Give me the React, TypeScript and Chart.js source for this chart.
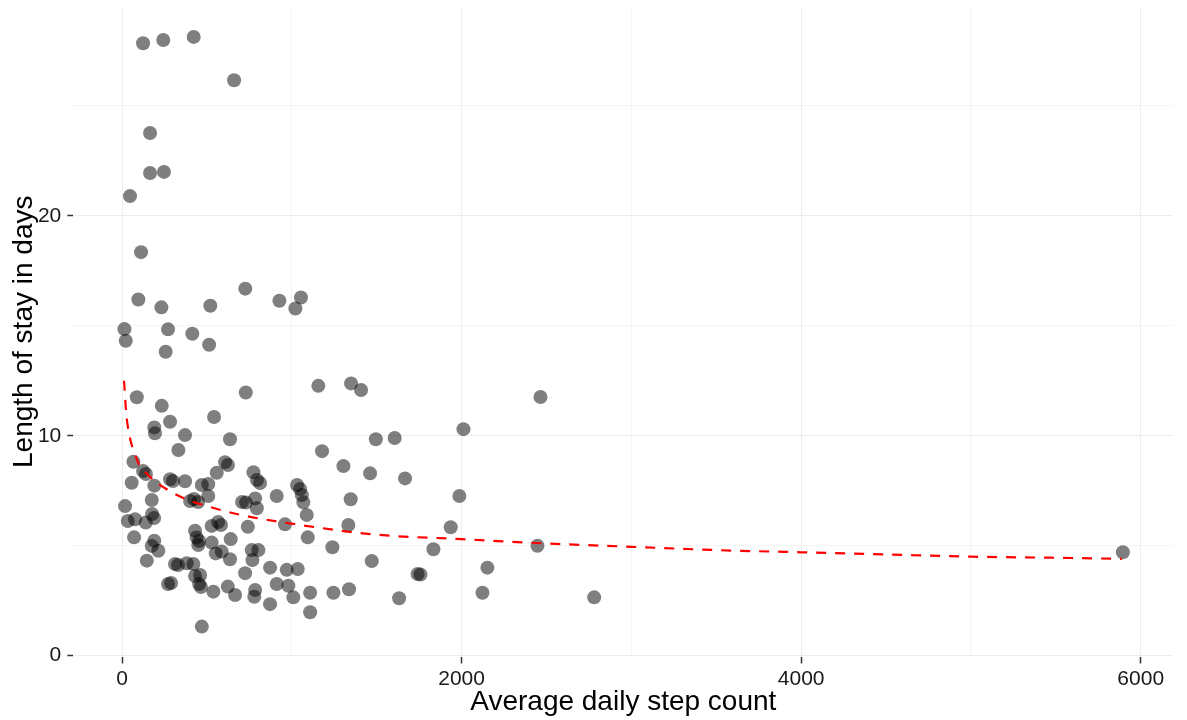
import React, { useEffect, useRef } from "react";
import { Chart, registerables } from "chart.js";

Chart.register(...registerables);

// Scatter points: average daily step count vs length of stay (days)
const stepCounts = [
  124, 243, 422, 660, 165, 165, 247, 47, 112, 726, 96, 232, 520, 927, 1054, 1021,
  14, 22, 271, 414, 513, 257, 87, 234, 729, 1156, 283, 190, 194, 542, 371, 636,
  332, 1178, 1349, 1408, 2465, 2011, 1495, 1606, 67, 124, 141, 57, 190, 18, 34,
  77, 140, 175, 177, 189, 71, 190, 175, 214, 146, 283, 300, 371, 470, 508, 558,
  607, 624, 401, 424, 448, 508, 528, 566, 583, 430, 439, 454, 449, 528, 552, 587,
  636, 640, 312, 330, 381, 420, 430, 460, 271, 289, 454, 465, 538, 623, 666, 470,
  725, 774, 795, 813, 707, 730, 784, 794, 911, 741, 764, 803, 768, 872, 970, 1035,
  911, 980, 1009, 784, 779, 872, 1108, 1108, 1031, 1049, 1059, 1068, 1088, 1094,
  960, 1239, 1245, 1304, 1461, 1667, 1347, 1987, 1333, 1936, 1471, 1834, 1741,
  1758, 2152, 1337, 1632, 2123, 2447, 2781, 5895,
];
const stayDays = [
  27.85, 28.0, 28.14, 26.17, 23.77, 21.95, 22.0, 20.9, 18.35, 16.69, 16.2, 15.84,
  15.91, 16.14, 16.29, 15.79, 14.85, 14.32, 14.84, 14.64, 14.14, 13.82, 11.75,
  11.36, 11.97, 12.27, 10.64, 10.38, 10.11, 10.85, 10.03, 9.84, 9.35, 9.3, 12.38,
  12.08, 11.76, 10.3, 9.84, 9.9, 8.82, 8.4, 8.26, 7.86, 7.73, 6.8, 6.12, 6.2, 6.05,
  7.08, 6.44, 6.26, 5.38, 5.23, 4.99, 4.77, 4.32, 8.02, 7.94, 7.93, 7.76, 7.8, 8.32,
  8.8, 8.67, 7.03, 7.12, 6.99, 7.26, 5.9, 6.08, 5.94, 5.68, 5.37, 5.21, 5.03, 5.14,
  4.65, 4.73, 4.38, 5.3, 4.17, 4.12, 4.2, 4.17, 3.62, 3.67, 3.26, 3.3, 3.26, 3.12,
  2.91, 3.14, 2.76, 1.32, 3.75, 8.34, 7.99, 7.85, 6.99, 6.96, 7.15, 6.7, 7.26, 5.86,
  4.8, 4.8, 4.35, 4.0, 3.9, 3.94, 3.26, 3.18, 2.65, 2.99, 2.68, 2.34, 2.86, 1.97,
  7.76, 7.58, 7.3, 6.97, 6.4, 5.38, 5.97, 4.93, 2.86, 8.62, 8.29, 8.06, 7.11, 7.26,
  5.94, 5.84, 4.3, 4.84, 3.71, 3.69, 4.0, 3.02, 2.61, 2.86, 5.0, 2.65, 4.7,
];

// Fitted (dashed red) curve
const fitSteps = [12, 25, 50, 75, 100, 150, 200, 300, 400, 500, 700, 1000, 1500, 2000, 2500, 3000, 3500, 4000, 4500, 5000, 5500, 5890];
const fitDays = [12.5, 11.0, 9.8, 9.2, 8.7, 8.25, 7.9, 7.4, 7.05, 6.8, 6.4, 6.0, 5.5, 5.3, 5.1, 4.95, 4.8, 4.7, 4.6, 4.5, 4.45, 4.4];

// Axis ticks (grid at every value, labels at majors)
const xGridValues = [0, 1000, 2000, 3000, 4000, 5000, 6000];
const xLabelValues = [0, 2000, 4000, 6000];
const yGridValues = [0, 5, 10, 15, 20, 25];
const yLabelValues = [0, 10, 20];

const FONT = "'Liberation Sans', Arial, Helvetica, sans-serif";

export default function App() {
  const ref = useRef<HTMLCanvasElement | null>(null);

  useEffect(() => {
    if (!ref.current) return;
    const points = stepCounts.map((x, i) => ({ x, y: stayDays[i] }));
    const fit = fitSteps.map((x, i) => ({ x, y: fitDays[i] }));

    const chart = new Chart(ref.current, {
      type: "scatter",
      data: {
        datasets: [
          {
            data: fit,
            showLine: true,
            borderColor: "#ff0000",
            borderWidth: 2.2,
            borderDash: [10, 9],
            pointRadius: 0,
            fill: false,
            cubicInterpolationMode: "monotone",
            order: 0,
          } as any,
          {
            data: points,
            backgroundColor: "rgba(0,0,0,0.5)",
            borderWidth: 0,
            pointRadius: 7,
            order: 1,
          },
        ],
      },
      options: {
        responsive: false,
        animation: false,
        layout: { padding: { left: 0, right: 13.7, top: 6.7, bottom: 0 } },
        plugins: {
          legend: { display: false },
          tooltip: { enabled: false },
        },
        scales: {
          x: {
            type: "linear",
            min: -287,
            max: 6192,
            afterBuildTicks: (s: any) => {
              s.ticks = xGridValues.map((v) => ({ value: v }));
            },
            afterFit: (s: any) => {
              s.height = 720 - 656.5;
              s.paddingLeft = 0;
              s.paddingRight = 0;
            },
            border: { display: false },
            grid: {
              color: (c: any) => (xLabelValues.includes(c.tick?.value) ? "#ededed" : "#f4f4f4"),
              lineWidth: 1,
              drawTicks: true,
              tickLength: 7,
              tickWidth: 1.5,
              tickColor: (c: any) => (xLabelValues.includes(c.tick?.value) ? "#333333" : "rgba(0,0,0,0)"),
            },
            ticks: {
              autoSkip: false,
              maxRotation: 0,
              padding: 3,
              color: "#1a1a1a",
              font: { family: FONT, size: 21 },
              callback: (v: any) => (xLabelValues.includes(Number(v)) ? String(v) : ""),
            },
            title: {
              display: true,
              text: "Average daily step count",
              color: "#000000",
              font: { family: FONT, size: 28 },
              padding: { top: 0, bottom: 1 },
            },
          },
          y: {
            type: "linear",
            min: -0.04,
            max: 29.5,
            afterBuildTicks: (s: any) => {
              s.ticks = yGridValues.map((v) => ({ value: v }));
            },
            afterFit: (s: any) => {
              s.width = 73.3;
              s.paddingTop = 0;
              s.paddingBottom = 0;
            },
            border: { display: false },
            grid: {
              color: (c: any) => (yLabelValues.includes(c.tick?.value) ? "#ededed" : "#f4f4f4"),
              lineWidth: 1,
              drawTicks: true,
              tickLength: 6,
              tickWidth: 1.5,
              tickColor: (c: any) => (yLabelValues.includes(c.tick?.value) ? "#333333" : "rgba(0,0,0,0)"),
            },
            ticks: {
              autoSkip: false,
              padding: 6,
              color: "#1a1a1a",
              font: { family: FONT, size: 21 },
              callback: (v: any) => (yLabelValues.includes(Number(v)) ? String(v) : ""),
            },
            title: {
              display: true,
              text: "Length of stay in days",
              color: "#000000",
              font: { family: FONT, size: 28 },
              padding: { top: 7, bottom: 0 },
            },
          },
        },
      },
    });
    return () => chart.destroy();
  }, []);

  return (
    <div style={{ position: "absolute", left: 0, top: 0, width: 1187, height: 720, background: "#ffffff" }}>
      <canvas ref={ref} width={1187} height={720} style={{ display: "block" }} />
    </div>
  );
}
